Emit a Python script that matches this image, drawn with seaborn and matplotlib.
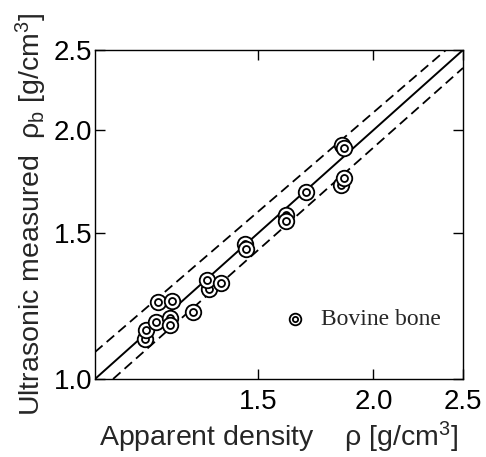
import numpy as np
import seaborn as sns
import pandas as pd
import matplotlib.pyplot as plt
from matplotlib.path import Path

# Measured points (apparent density vs ultrasonic estimate), g/cm^3
apparent = [1.133, 1.135, 1.164, 1.171, 1.205, 1.205, 1.210, 1.275,
            1.327, 1.323, 1.368, 1.453, 1.456, 1.609, 1.609, 1.691,
            1.849, 1.859, 1.845, 1.859]
ultrasonic = [1.119, 1.146, 1.173, 1.238, 1.184, 1.162, 1.243, 1.204,
              1.285, 1.318, 1.306, 1.456, 1.435, 1.579, 1.554, 1.684,
              1.919, 1.901, 1.717, 1.749]

# identity line and the two dashed bounds (end points)
ident_x = [1.0, 2.5]
ident_y = [1.0, 2.5]
upper_x = [1.0, 2.396]
upper_y = [1.078, 2.5]
lower_x = [1.046, 2.5]
lower_y = [1.0, 2.378]

x_ticks = [1.5, 2.0, 2.5]
y_ticks = [1.0, 1.5, 2.0, 2.5]

data = pd.DataFrame({"rho": apparent, "rho_b": ultrasonic})

sns.set_style("ticks")
plt.rcParams["font.family"] = ["Liberation Sans", "DejaVu Sans"]
plt.rcParams["mathtext.fontset"] = "custom"
plt.rcParams["mathtext.rm"] = "Liberation Sans"
plt.rcParams["mathtext.it"] = "Liberation Sans"

fig = plt.figure(figsize=(4.86, 4.57), dpi=100)
ax = fig.add_axes([0.1955, 0.1707, 0.7572, 0.7199])

# double-circle marker
ring = Path.make_compound_path(Path.unit_circle(), Path.circle((0, 0), 0.45))

ax.plot(ident_x, ident_y, color="black", lw=1.4)
ax.plot(upper_x, upper_y, color="black", lw=1.3, ls=(0, (5.5, 3)))
ax.plot(lower_x, lower_y, color="black", lw=1.3, ls=(0, (5.5, 3)))

sns.scatterplot(data=data, x="rho", y="rho_b", marker=ring, s=125,
                color="white", edgecolor="black", linewidth=1.3,
                label="Bovine bone", ax=ax, zorder=3)

ax.set_xscale("log")
ax.set_yscale("log")
ax.set_xlim(1.0, 2.5)
ax.set_ylim(1.0, 2.5)
ax.minorticks_off()
ax.set_xticks(x_ticks)
ax.set_xticklabels([f"{t:.1f}" for t in x_ticks])
ax.set_yticks(y_ticks)
ax.set_yticklabels([f"{t:.1f}" for t in y_ticks])
ax.tick_params(axis="both", which="both", direction="in", length=7,
               width=1.0, top=True, right=True, labelsize=20, colors="black")
ax.tick_params(axis="x", pad=7)
ax.tick_params(axis="y", pad=2)
for sp in ax.spines.values():
    sp.set_linewidth(1.0)
    sp.set_color("black")

ax.set_xlabel("Apparent density    \u03c1 [g/cm$^3$]", fontsize=20.5, labelpad=4)
ax.set_ylabel("Ultrasonic measured  \u03c1$_\\mathrm{b}$ [g/cm$^3$]", fontsize=20.5,
              labelpad=3)

leg = ax.legend(loc="center left", bbox_to_anchor=(0.48, 0.182), frameon=False,
                markerscale=0.75, handlelength=1.0, handletextpad=0.6,
                borderpad=0, prop={"family": "Liberation Serif", "size": 17})

plt.savefig("out.png", dpi=100)
